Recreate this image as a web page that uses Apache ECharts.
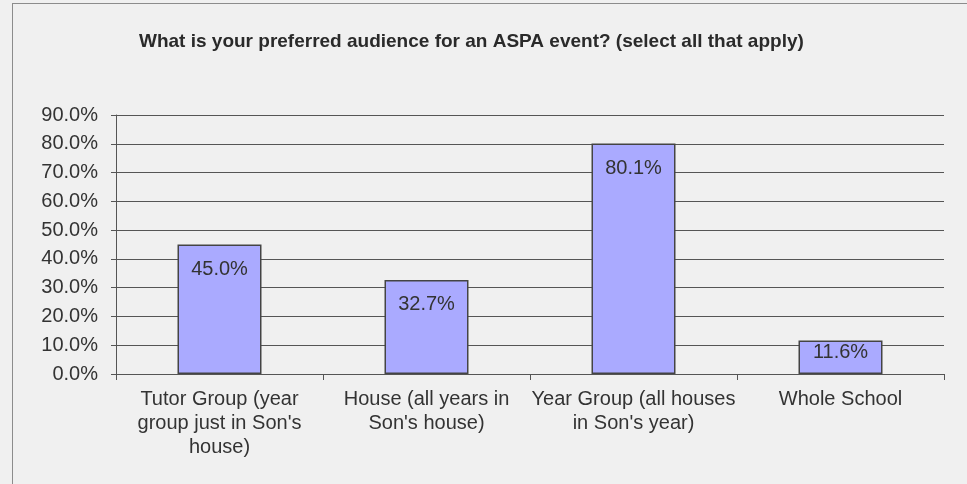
<!DOCTYPE html>
<html>
<head>
<meta charset="utf-8">
<script src="https://cdn.jsdelivr.net/npm/echarts@6/dist/echarts.min.js"></script>
<style>
  html, body { margin: 0; padding: 0; background: #f0f0f0; }
  #frame { position: absolute; left: 12px; top: 3px; width: 970px; height: 500px; border: 1px solid #8c8c8c; box-sizing: border-box; }
  #chart { position: absolute; left: 0; top: 0; width: 967px; height: 484px; }
</style>
</head>
<body>
<div id="frame"></div>
<div id="chart"></div>
<script>
  // survey answers
  var categories = [
    "Tutor Group (year\ngroup just in Son's\nhouse)",
    "House (all years in\nSon's house)",
    "Year Group (all houses\nin Son's year)",
    "Whole School"
  ];
  var percents = [45.0, 32.7, 80.1, 11.6];
  var yTicks = { min: 0, max: 90, step: 10 };

  // short bars get their label pulled up so it stays inside
  var barData = percents.map(function (v) {
    return v < 15 ? { value: v, label: { distance: 2 } } : v;
  });

  var chart = echarts.init(document.getElementById('chart'));
  var option = {
    backgroundColor: 'transparent',
    animation: false,
    title: {
      text: 'What is your preferred audience for an ASPA event? (select all that apply)',
      left: 134,
      top: 27,
      textStyle: {
        fontFamily: 'Liberation Sans',
        fontSize: 19,
        fontWeight: 'bold',
        color: '#2a2a2a'
      }
    },
    grid: { left: 116, right: 23, top: 115, bottom: 110 },
    xAxis: {
      type: 'category',
      data: categories,
      axisLine: { lineStyle: { color: '#555', width: 1 } },
      axisTick: { show: true, length: 6, lineStyle: { color: '#555' } },
      axisLabel: {
        interval: 0,
        margin: 13,
        fontFamily: 'Liberation Sans',
        fontSize: 20,
        lineHeight: 24,
        color: '#333',
        align: 'center'
      }
    },
    yAxis: {
      type: 'value',
      min: yTicks.min,
      max: yTicks.max,
      interval: yTicks.step,
      axisLine: { show: true, lineStyle: { color: '#555', width: 1 } },
      axisTick: { show: true, length: 5, lineStyle: { color: '#555' } },
      splitLine: { show: true, lineStyle: { color: '#555', width: 1 } },
      axisLabel: {
        margin: 18,
        fontFamily: 'Liberation Sans',
        fontSize: 20,
        color: '#333',
        formatter: function (v) { return v.toFixed(1) + '%'; }
      }
    },
    series: [{
      type: 'bar',
      data: barData,
      barWidth: 84,
      itemStyle: {
        color: '#aaaaff',
        borderColor: '#444',
        borderWidth: 1.5
      },
      label: {
        show: true,
        position: 'insideTop',
        distance: 15,
        fontFamily: 'Liberation Sans',
        fontSize: 20,
        color: '#333',
        formatter: function (p) { return p.value.toFixed(1) + '%'; }
      }
    }]
  };
  chart.setOption(option);
</script>
</body>
</html>
